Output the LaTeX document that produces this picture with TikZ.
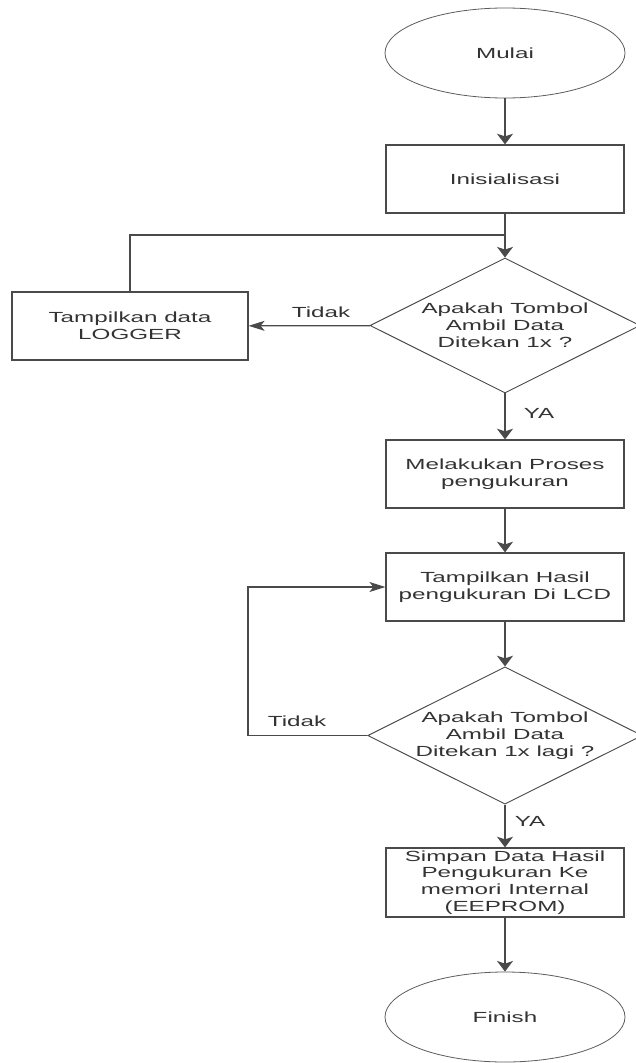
\documentclass[tikz,border=0pt]{standalone}
\usepackage{fontspec}
\setmainfont{Liberation Sans}[FakeStretch=1.65]
\usetikzlibrary{shapes.geometric,arrows.meta}
\definecolor{garis}{HTML}{4A4A4A}
\definecolor{teks}{HTML}{333333}

\begin{document}
\begin{tikzpicture}[x=0.75pt,y=-0.75pt,
    font=\fontsize{11}{12.8}\selectfont,
    every node/.style={text=teks,align=center},
    terminal/.style={draw=garis!90,ellipse,line width=0.6pt,minimum width=180pt,minimum height=67.5pt},
    proses/.style={draw=garis,rectangle,line width=0.9pt,minimum width=178.5pt,minimum height=51pt},
    keputusan/.style={draw=garis,diamond,aspect=2,inner sep=0pt,line width=0.7pt,minimum width=202.5pt,minimum height=101.25pt},
    garisan/.style={draw=garis,line width=0.9pt},
    panahV/.style={garisan,-{Stealth[length=8pt,width=12pt,inset=2pt]}},
    panahH/.style={garisan,-{Stealth[length=12pt,width=7.5pt,inset=3pt]}}]
      \useasboundingbox (0,0) rectangle (635,1063);

      \node[terminal] (mulai) at (505,53) {Mulai};
      \node[proses] (init) at (505,179) {Inisialisasi};
      \coordinate (simpul) at (505,235);
      \node[keputusan] (cek1) at (505,325.5) {Apakah Tombol\\Ambil Data\\Ditekan 1x ?};
      \node[proses,minimum width=177pt] (logger) at (130,326) {Tampilkan data\\LOGGER};
      \node[proses] (ukur) at (505,474) {Melakukan Proses\\pengukuran};
      \node[proses] (hasil) at (505,587) {Tampilkan Hasil\\pengukuran Di LCD};
      \node[keputusan] (cek2) at (505,735.5) {Apakah Tombol\\Ambil Data\\Ditekan 1x lagi ?};
      \coordinate (balik) at (248,735.5);
      \node[proses,minimum height=51.75pt,inner ysep=0pt,font=\fontsize{11}{12.6}\selectfont] (simpan) at (505,882.5) {Simpan Data Hasil\\Pengukuran Ke\\memori Internal\\(EEPROM)};
      \node[terminal] (finish) at (505,1017) {Finish};

      \node (tidakA) at (321,312) {Tidak};
      \node (yaA) at (539,413) {YA};
      \node (tidakB) at (297,721) {Tidak};
      \node (yaB) at (530,821) {YA};

      \draw[panahV] (mulai) -- (init);
      \draw[panahV] (init) -- (cek1);
      \draw[garisan] (logger.north) |- (simpul);
      \draw[panahH] (cek1) -- (logger);
      \draw[panahV] (cek1) -- (ukur);
      \draw[panahV] (ukur) -- (hasil);
      \draw[panahV] (hasil) -- (cek2);
      \draw[panahH] (cek2.west) -- (balik) |- (hasil.west);
      \draw[panahV] (cek2) -- (simpan);
      \draw[panahV] (simpan) -- (finish);
    \end{tikzpicture}
\end{document}
